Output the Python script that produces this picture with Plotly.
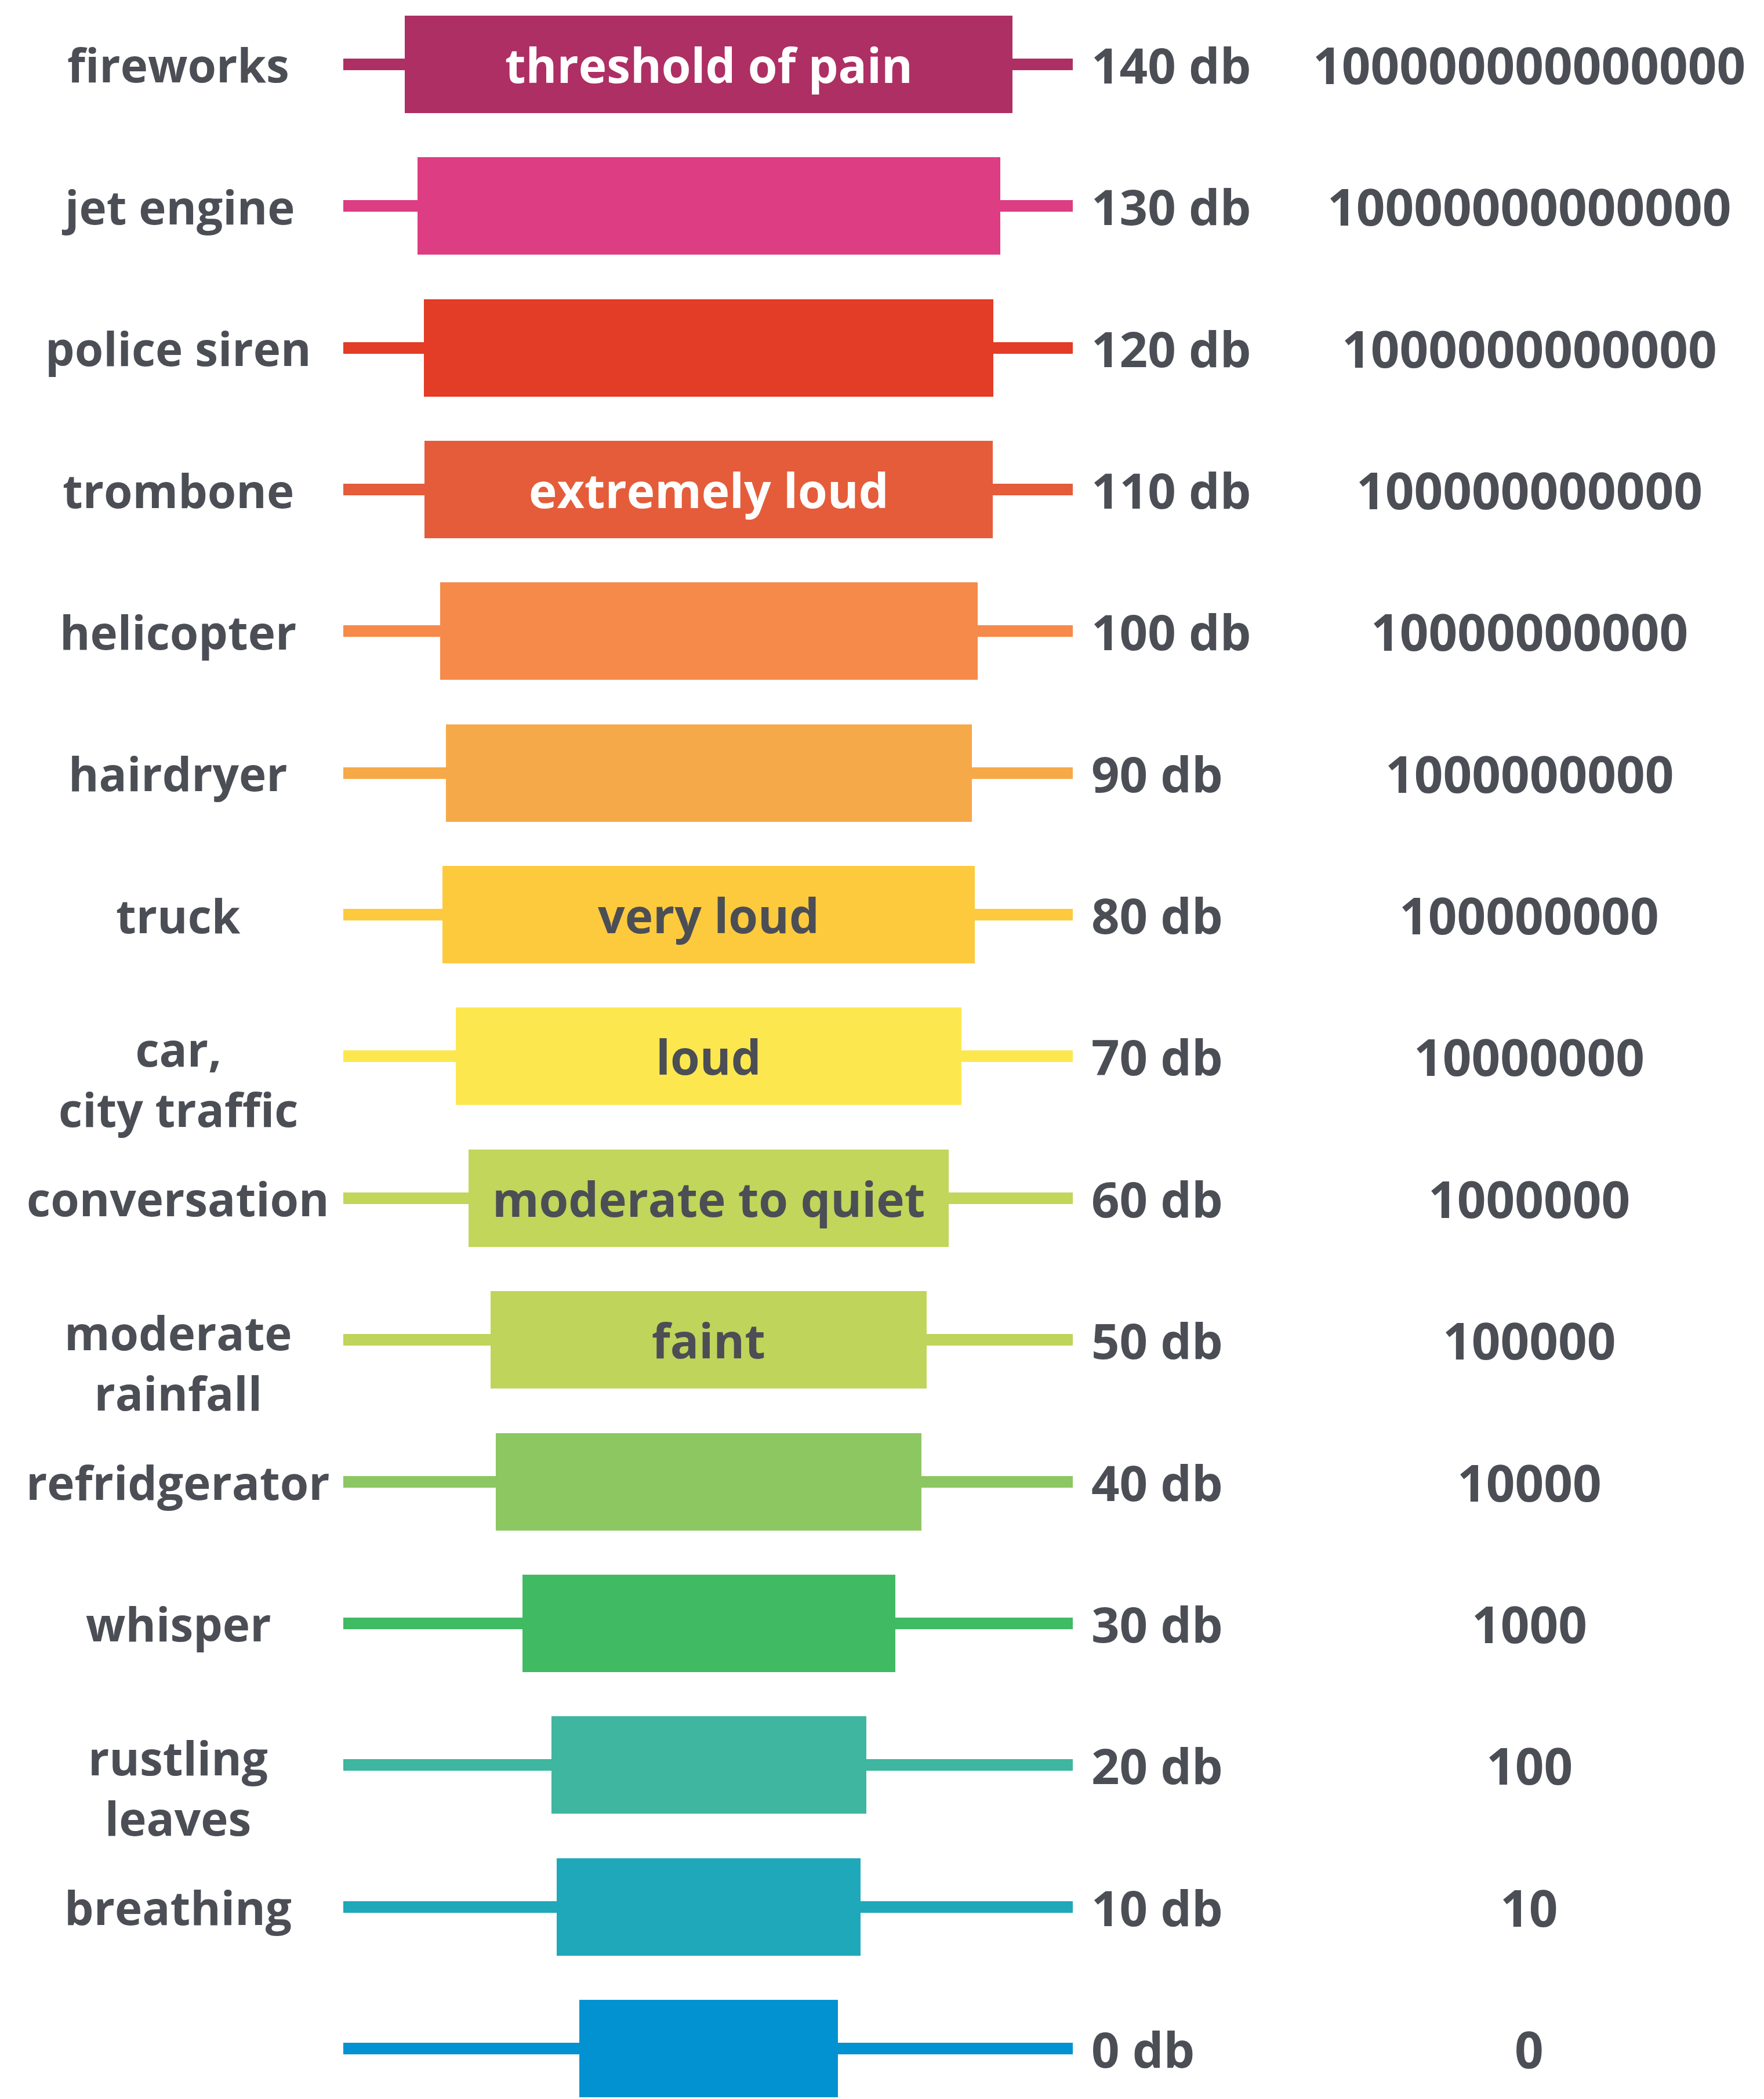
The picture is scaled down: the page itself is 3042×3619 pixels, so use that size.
import plotly.graph_objects as go

# ---- data ----
db_levels = [140, 130, 120, 110, 100, 90, 80, 70, 60, 50, 40, 30, 20, 10, 0]
sources = ["fireworks", "jet engine", "police siren", "trombone", "helicopter",
           "hairdryer", "truck", "car,<br>city traffic", "conversation",
           "moderate<br>rainfall", "refridgerator", "whisper",
           "rustling<br>leaves", "breathing", ""]
levels = ["threshold of pain", "", "", "extremely loud", "", "", "very loud",
          "loud", "moderate to quiet", "faint", "", "", "", "", ""]
intensity = ["100000000000000", "10000000000000", "1000000000000",
             "100000000000", "10000000000", "1000000000", "100000000",
             "10000000", "1000000", "100000", "10000", "1000", "100", "10", "0"]
block_width = [1048, 1005, 982, 980, 927, 907, 918, 872, 828, 752, 734, 643, 543, 524, 446]
colors = ["#AE2F64", "#DD3D82", "#E33C27", "#E45C3A", "#F58A4A", "#F6A948",
          "#FDCA3E", "#FDE74F", "#C1D65A", "#BFD45A", "#8CC762", "#41BA64",
          "#3FB69F", "#1EA8B9", "#0392D1"]
level_text_color = ["#FFFFFF", "#FFFFFF", "#FFFFFF", "#FFFFFF", "#4B4E55", "#4B4E55",
                    "#4B4E55", "#4B4E55", "#4B4E55", "#4B4E55", "#4B4E55", "#4B4E55",
                    "#4B4E55", "#4B4E55", "#4B4E55"]

# ---- style constants ----
TEXT = "#4B4E55"
FONT = "Open Sans"
WT = 700
FS_LABEL = 80
FS_BAR = 82
FS_DB = 85
FS_NUM = 87
WHISK_L, WHISK_R = -630, 628
BAR_H = 6.875
WHISK_H = 0.82

fig = go.Figure()

# whiskers (thin bars behind)
fig.add_trace(go.Bar(
    y=db_levels, x=[WHISK_R - WHISK_L] * len(db_levels), base=[WHISK_L] * len(db_levels),
    orientation="h", width=WHISK_H, marker=dict(color=colors, line=dict(width=0)),
    hoverinfo="skip", showlegend=False))

# blocks
fig.add_trace(go.Bar(
    y=db_levels, x=block_width, base=[-w / 2 for w in block_width],
    orientation="h", width=BAR_H, marker=dict(color=colors, line=dict(width=0)),
    hoverinfo="skip", showlegend=False))


def f(color, size):
    return dict(family=FONT, size=size, color=color, weight=WT)


ann = []
for d, s, lv, it, tc in zip(db_levels, sources, levels, intensity, level_text_color):
    if s:
        nlines = s.count("<br>") + 1
        ann.append(dict(x=-915, y=d, text=s, xanchor="center", yanchor="middle",
                        yshift=-38 if nlines == 2 else 0, showarrow=False,
                        font=f(TEXT, FS_LABEL)))
    if lv:
        ann.append(dict(x=0, y=d, text=lv, xanchor="center", yanchor="middle",
                        showarrow=False, font=f(tc, FS_BAR)))
    ann.append(dict(x=658, y=d, text=f"{d} db", xanchor="left", yanchor="middle",
                    showarrow=False, font=f(TEXT, FS_DB)))
    ann.append(dict(x=1415, y=d, text=it, xanchor="center", yanchor="middle",
                    showarrow=False, font=f(TEXT, FS_NUM)))

fig.update_layout(
    width=3042, height=3619,
    margin=dict(l=0, r=0, t=0, b=0, pad=0),
    paper_bgcolor="white", plot_bgcolor="white",
    barmode="overlay", bargap=0,
    xaxis=dict(range=[-1222, 1820], visible=False, fixedrange=True),
    yaxis=dict(range=[-3.560, 144.54], visible=False, fixedrange=True),
    annotations=ann,
    showlegend=False,
)

fig.write_html("out.html", config={"displayModeBar": False},
               post_script="document.body.style.margin='0';document.body.style.overflow='hidden';")
